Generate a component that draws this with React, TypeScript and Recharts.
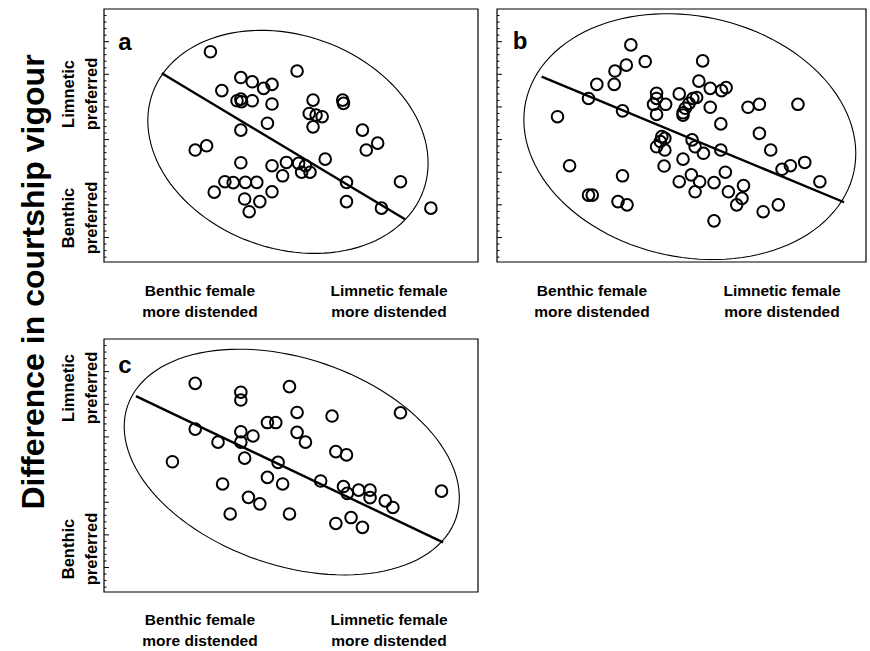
import React from 'react';
import { ScatterChart, Scatter, XAxis, YAxis, ReferenceLine, ReferenceArea } from 'recharts';

// x: relative distension (benthic -> limnetic), y: difference in courtship vigour
// arbitrary units
const aX = [1.40, 2.54, 1.80, 1.95, 2.10, 2.21, 1.55, 1.75, 1.80, 1.81, 1.95, 2.21, 2.75, 3.14, 3.15, 2.70, 2.79, 2.87, 2.75, 2.15, 1.80, 3.40, 3.60, 3.45, 1.20, 1.35, 1.80, 2.21, 2.40, 2.56, 2.65, 2.60, 2.71, 2.91, 2.35, 1.59, 1.70, 1.86, 2.01, 1.45, 2.21, 1.85, 2.05, 1.91, 3.19, 3.90, 3.19, 3.65, 4.30];
const aY = [6.44, 5.85, 5.65, 5.52, 5.32, 5.44, 5.25, 4.94, 4.99, 4.91, 4.94, 4.84, 4.96, 4.96, 4.86, 4.55, 4.50, 4.45, 4.14, 4.25, 4.04, 4.04, 3.64, 3.43, 3.43, 3.56, 3.04, 2.95, 3.05, 3.02, 2.95, 2.75, 2.75, 3.15, 2.64, 2.46, 2.43, 2.44, 2.44, 2.14, 2.15, 1.93, 1.85, 1.54, 2.44, 2.46, 1.85, 1.65, 1.65];

const bX = [1.77, 1.96, 1.71, 1.56, 2.72, 1.32, 1.55, 1.21, 2.67, 2.82, 2.97, 3.03, 2.11, 2.11, 2.41, 2.59, 2.64, 2.07, 2.23, 2.54, 2.49, 2.46, 2.46, 2.11, 2.82, 1.66, 0.80, 3.32, 3.47, 3.98, 2.96, 3.47, 2.18, 2.22, 2.16, 2.11, 2.22, 2.58, 2.62, 2.73, 2.96, 3.62, 2.46, 2.21, 0.96, 1.66, 2.57, 3.02, 2.41, 2.68, 2.87, 2.62, 3.26, 3.06, 3.24, 3.17, 3.77, 3.88, 4.07, 4.27, 1.21, 1.26, 1.60, 1.72, 3.52, 3.72, 2.87];
const bY = [6.65, 6.14, 6.03, 5.85, 6.16, 5.44, 5.44, 5.01, 5.54, 5.32, 5.25, 5.34, 5.17, 5.01, 5.15, 5.01, 5.04, 4.83, 4.83, 4.86, 4.71, 4.57, 4.50, 4.52, 4.74, 4.63, 4.45, 4.74, 4.83, 4.83, 4.23, 3.94, 3.84, 3.79, 3.69, 3.53, 3.43, 3.74, 3.53, 3.33, 3.43, 3.43, 3.15, 2.94, 2.95, 2.64, 2.67, 2.75, 2.46, 2.46, 2.43, 2.15, 2.34, 2.15, 1.95, 1.75, 2.84, 2.95, 3.05, 2.46, 2.05, 2.05, 1.85, 1.75, 1.54, 1.75, 1.26];

const cX = [1.20, 1.80, 1.80, 2.44, 2.54, 3.00, 3.90, 1.20, 1.50, 1.80, 1.80, 1.96, 2.15, 2.26, 2.54, 2.65, 1.85, 0.90, 2.29, 3.05, 3.19, 1.56, 2.15, 2.35, 2.85, 3.15, 3.20, 3.35, 3.50, 3.50, 3.70, 3.80, 4.44, 1.90, 2.05, 1.66, 2.44, 3.05, 3.25, 3.40];
const cY = [6.39, 6.12, 5.88, 6.29, 5.50, 5.39, 5.49, 4.99, 4.59, 4.91, 4.59, 4.78, 5.19, 5.19, 4.89, 4.59, 4.10, 3.99, 3.97, 4.30, 4.20, 3.31, 3.51, 3.31, 3.40, 3.23, 3.02, 3.12, 3.12, 2.89, 2.79, 2.59, 3.09, 2.90, 2.70, 2.39, 2.39, 2.10, 2.28, 1.98];

// regression line end points [x, y]
const aFit = [[0.76, 5.78], [3.96, 1.31]];
const bFit = [[0.59, 5.68], [4.59, 1.83]];
const cFit = [[0.42, 6.00], [4.46, 1.52]];

// confidence ellipses: centre x, centre y, then two conjugate half-axes (dx, dy)
const aEllipse = [2.42, 3.68, 1.78, -1.50, -0.48, -3.07];
const bEllipse = [2.55, 3.84, 2.17, -1.07, -0.33, -3.61];
const cEllipse = [2.47, 3.98, 2.16, -1.72, -0.44, -3.00];

const xMajor = [0.5, 1.5, 2.5, 3.5, 4.5];
const yMajor = [0.75, 1.75, 2.75, 3.75, 4.75, 5.75, 6.75];
const Y_MAX = 7.75;

const FONT = '"Liberation Sans", Arial, Helvetica, sans-serif';

const zip = (xs: number[], ys: number[]) => xs.map((x, i) => ({ x, y: ys[i] }));

const minorTicks = (start: number, step: number, max: number) => {
  const out: number[] = [];
  for (let v = start; v < max - 0.04; v += step) out.push(Math.round(v * 100) / 100);
  return out;
};

const ring = (e: number[]) => {
  const pts = [];
  for (let k = 0; k <= 120; k++) {
    const t = (k / 120) * Math.PI * 2;
    pts.push({ x: e[0] + Math.cos(t) * e[2] + Math.sin(t) * e[4], y: e[1] + Math.cos(t) * e[3] + Math.sin(t) * e[5] });
  }
  return pts;
};

const tickMark = (side: 'bottom' | 'top' | 'left', majors: number[]) => (p: any) => {
  const major = majors.some((m) => Math.abs(m - p.payload.value) < 1e-6);
  const len = major ? 5 : 2.5;
  if (side === 'bottom') return <line x1={p.x} x2={p.x} y1={p.y} y2={p.y - len} stroke="#000" strokeWidth={1} />;
  if (side === 'top') return <line x1={p.x} x2={p.x} y1={p.y} y2={p.y + len} stroke="#000" strokeWidth={1} />;
  return <line x1={p.x} x2={p.x + len} y1={p.y} y2={p.y} stroke="#000" strokeWidth={1} />;
};

const Ring = (p: any) => <circle cx={p.cx} cy={p.cy} r={5.8} fill="none" stroke="#000" strokeWidth={2} />;

const M = 4;

interface PanelProps {
  left: number;
  top: number;
  w: number;
  h: number;
  xMax: number;
  xs: number[];
  ys: number[];
  fit: number[][];
  ellipse: number[];
}

function Panel({ left, top, w, h, xMax, xs, ys, fit, ellipse }: PanelProps) {
  const xTicks = minorTicks(0.1, 0.2, xMax);
  const yTicks = minorTicks(0.15, 0.2, Y_MAX);
  return (
    <div style={{ position: 'absolute', left: left - M - 1, top: top - M - 1 }}>
      <ScatterChart width={w + 2 * M + 1} height={h + 2 * M + 2} margin={{ top: M, right: M, bottom: M, left: M }}>
        <XAxis xAxisId="main" type="number" dataKey="x" domain={[0, xMax]} allowDataOverflow hide />
        <YAxis yAxisId="main" type="number" dataKey="y" domain={[0, Y_MAX]} allowDataOverflow hide />
        <XAxis xAxisId="bot" orientation="bottom" type="number" domain={[0, xMax]} allowDataOverflow height={1}
          ticks={xTicks} interval={0} tickSize={0} tickMargin={0} tickLine={false} axisLine={false}
          tick={tickMark('bottom', xMajor)} />
        <XAxis xAxisId="top" orientation="top" type="number" domain={[0, xMax]} allowDataOverflow height={1}
          ticks={xTicks} interval={0} tickSize={0} tickMargin={0} tickLine={false} axisLine={false}
          tick={tickMark('top', xMajor)} />
        <YAxis yAxisId="left" orientation="left" type="number" domain={[0, Y_MAX]} allowDataOverflow width={1}
          ticks={yTicks} interval={0} tickSize={0} tickMargin={0} tickLine={false} axisLine={false}
          tick={tickMark('left', yMajor)} />
        <ReferenceArea xAxisId="main" yAxisId="main" x1={0} x2={xMax} y1={0} y2={Y_MAX}
          fill="none" fillOpacity={0} stroke="#000" strokeWidth={1.2} />
        <Scatter xAxisId="main" yAxisId="main" data={ring(ellipse)} line={{ stroke: '#000', strokeWidth: 1.1 }}
          lineType="joint" shape={() => <g />} isAnimationActive={false} />
        <ReferenceLine xAxisId="main" yAxisId="main"
          segment={[{ x: fit[0][0], y: fit[0][1] }, { x: fit[1][0], y: fit[1][1] }]}
          stroke="#000" strokeWidth={2.4} />
        <Scatter xAxisId="main" yAxisId="main" data={zip(xs, ys)} shape={Ring} isAnimationActive={false} />
      </ScatterChart>
    </div>
  );
}

const Side = ({ x, cy, lines }: { x: number; cy: number; lines: string[] }) => (
  <g>
    {lines.map((t, i) => (
      <text key={t} x={x + i * 23} y={cy} transform={`rotate(-90 ${x + i * 23} ${cy})`} textAnchor="middle"
        dominantBaseline="central" fontSize={16.5} fontWeight="bold">{t}</text>
    ))}
  </g>
);

const Bottom = ({ cx, y, lines }: { cx: number; y: number; lines: string[] }) => (
  <g>
    {lines.map((t, i) => (
      <text key={t} x={cx} y={y + i * 21} textAnchor="middle" dominantBaseline="central" fontSize={15.5} fontWeight="bold">{t}</text>
    ))}
  </g>
);

export default function App() {
  return (
    <div style={{ position: 'absolute', left: 0, top: 0, width: 870, height: 651, background: '#fff', fontFamily: FONT }}>
      <svg width={870} height={651} style={{ position: 'absolute', left: 0, top: 0 }} fontFamily={FONT}>
        <text x={33} y={282} transform="rotate(-90 33 282)" textAnchor="middle" dominantBaseline="central" fontSize={32} fontWeight="bold">
          Difference in courtship vigour
        </text>
        <Side x={68} cy={94} lines={['Limnetic', 'preferred']} />
        <Side x={68} cy={218} lines={['Benthic', 'preferred']} />
        <Side x={68} cy={388} lines={['Limnetic', 'preferred']} />
        <Side x={68} cy={549} lines={['Benthic', 'preferred']} />
        <Bottom cx={200} y={290} lines={['Benthic female', 'more distended']} />
        <Bottom cx={389} y={290} lines={['Limnetic female', 'more distended']} />
        <Bottom cx={592} y={290} lines={['Benthic female', 'more distended']} />
        <Bottom cx={782} y={290} lines={['Limnetic female', 'more distended']} />
        <Bottom cx={200} y={619} lines={['Benthic female', 'more distended']} />
        <Bottom cx={389} y={619} lines={['Limnetic female', 'more distended']} />
      </svg>
      <Panel left={104} top={9} w={374} h={253} xMax={4.92} xs={aX} ys={aY} fit={aFit} ellipse={aEllipse} />
      <Panel left={497} top={9} w={369} h={253} xMax={4.88} xs={bX} ys={bY} fit={bFit} ellipse={bEllipse} />
      <Panel left={104} top={339} w={374} h={253} xMax={4.92} xs={cX} ys={cY} fit={cFit} ellipse={cEllipse} />
      <svg width={870} height={651} style={{ position: 'absolute', left: 0, top: 0, pointerEvents: 'none' }} fontFamily={FONT}>
        <text x={125} y={41} textAnchor="middle" dominantBaseline="central" fontSize={24} fontWeight="bold">a</text>
        <text x={520} y={40} textAnchor="middle" dominantBaseline="central" fontSize={24} fontWeight="bold">b</text>
        <text x={125} y={364} textAnchor="middle" dominantBaseline="central" fontSize={24} fontWeight="bold">c</text>
      </svg>
    </div>
  );
}
